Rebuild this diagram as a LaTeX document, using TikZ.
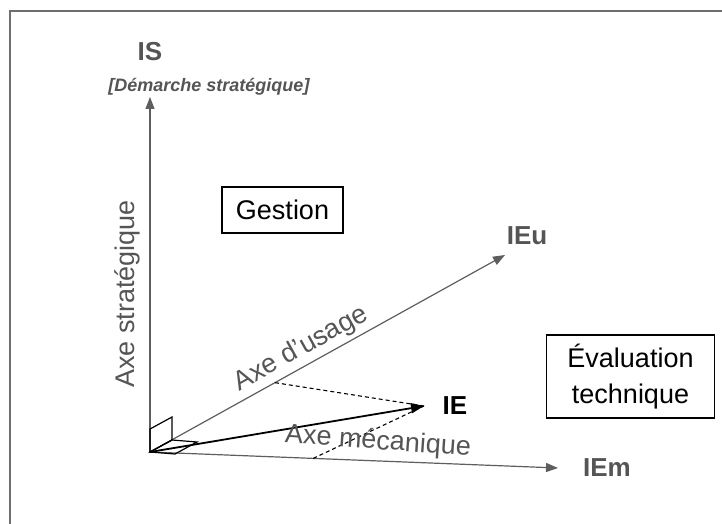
\documentclass[tikz,border=0pt]{standalone}
\usepackage{fontspec}
\setmainfont{Liberation Sans}
\usetikzlibrary{arrows.meta,calc}
\definecolor{axisgray}{HTML}{5E5E5E}
\definecolor{labelgray}{HTML}{555555}
\definecolor{framegray}{HTML}{6E6E6E}
\begin{document}
\begin{tikzpicture}[x=1pt,y=-1pt,
  axis/.style={draw=axisgray,line width=1.2pt,-{Triangle[length=12pt,width=9pt]}},
  mainvec/.style={draw=black,line width=1.8pt,-{Triangle[length=13pt,width=10pt]}},
  proj/.style={draw=black,line width=1.1pt,dash pattern=on 4pt off 3pt},
  marker/.style={draw=black,line width=1.2pt,line join=miter},
  endlabel/.style={text=labelgray,font=\bfseries\fontsize{26}{29}\selectfont,inner sep=0pt},
  axislabel/.style={text=labelgray,font=\fontsize{27}{30}\selectfont,inner sep=0pt},
  zonebox/.style={draw=black,line width=1.3pt,font=\fontsize{27}{36}\selectfont,align=center,inner sep=0pt}]
\useasboundingbox (0,0) rectangle (722,524);
\fill[white] (0,0) rectangle (722,524);
% frame (top and left edges only)
\draw[framegray,line width=2pt] (10,524) -- (10,11) -- (722,11);

% key points
\coordinate (O) at (150,452);
\coordinate (ISt) at (150,97);
\coordinate (IEut) at (505,255);
\coordinate (IEmt) at (558,468);
\coordinate (IEt) at (424,406);

% axes
\draw[axis] (O) -- (ISt);
\draw[axis] (O) -- (IEut);
\draw[axis] (O) -- (IEmt);

% right-angle markers
\draw[marker] (O) -- (150,429) -- (172,417) -- (172,440) -- cycle;
\draw[marker] (O) -- (172,440) -- (197,442) -- (175,454) -- cycle;

% projections
\coordinate (P1) at ($(O)!0.352!(IEut)$);
\coordinate (P2) at ($(O)!0.4!(IEmt)$);
\draw[proj] (P1) -- (IEt);
\draw[proj] (P2) -- (IEt);

% IE vector
\draw[mainvec] (O) -- (IEt);

% end labels
\node[endlabel] (IS) at (150,52) {IS};
\node[text=labelgray,font=\bfseries\itshape\fontsize{18}{21}\selectfont,inner sep=0pt] (dem) at (209,87) {[Démarche stratégique]};
\node[endlabel] (IEu) at (527,236) {IEu};
\node[endlabel] (IEm) at (607,468) {IEm};
\node[endlabel,text=black] (IE) at (455,406) {IE};

% axis labels
\node[axislabel,rotate=90] (axs) at (127,294) {Axe stratégique};
\node[axislabel,rotate=29] (axu) at (301,349) {Axe d'usage};
\node[axislabel,rotate=-4] (axm) at (378,442) {Axe mécanique};

% zone boxes
\node[zonebox,minimum width=121pt,minimum height=46pt] (gest) at (282.5,210) {Gestion};
\node[zonebox,minimum width=168pt,minimum height=83pt] (eval) at (630.5,376.5) {Évaluation\\technique};
\end{tikzpicture}
\end{document}
